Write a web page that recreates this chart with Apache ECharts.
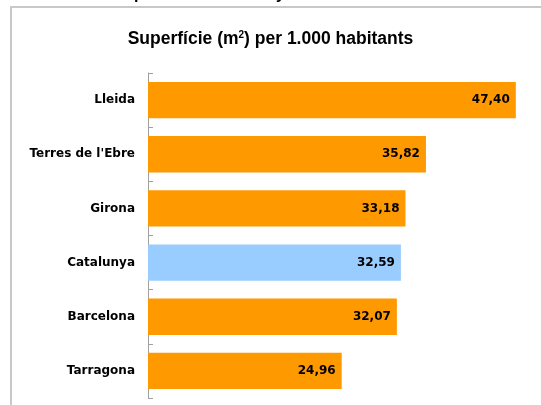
<!DOCTYPE html>
<html>
<head>
<meta charset="utf-8">
<script src="https://cdn.jsdelivr.net/npm/echarts@6/dist/echarts.min.js"></script>
<style>
  html, body { margin: 0; padding: 0; background: #fff; }
  #chart { width: 541px; height: 405px; }
</style>
</head>
<body>
<div id="chart"></div>
<script>
// dades
const zones = ['Lleida', "Terres de l'Ebre", 'Girona', 'Catalunya', 'Barcelona', 'Tarragona'];
const superficie = [47.40, 35.82, 33.18, 32.59, 32.07, 24.96];
const colorZona = '#FF9900';
const colorCatalunya = '#99CCFF';

const myChart = echarts.init(document.getElementById('chart'));

const option = {
    animation: false,
    backgroundColor: '#fff',
    title: {
        text: '{a|Superfície (m}{s|2}{a|) per 1.000 habitants}',
        left: 'center',
        top: 25,
        textStyle: {
            rich: {
                a: { fontFamily: 'Liberation Sans, Arial', fontWeight: 'bold', fontSize: 17.5, color: '#000' },
                s: { fontFamily: 'Liberation Sans, Arial', fontWeight: 'bold', fontSize: 10, color: '#000', verticalAlign: 'top', padding: [0, 0, 9, 0] }
            }
        }
    },
    graphic: [
        {
            type: 'rect',
            shape: { x: 11, y: 7, width: 600, height: 500 },
            style: { fill: 'none', stroke: '#c8c8c8', lineWidth: 2 },
            silent: true
        },
        // restes del text de dalt, tallat
        {
            type: 'text',
            style: { text: 'p', x: 134, y: 3, textVerticalAlign: 'bottom', fill: '#000', font: 'bold 16px Liberation Sans' }
        },
        {
            type: 'text',
            style: { text: 'y', x: 276, y: 3, textVerticalAlign: 'bottom', fill: '#000', font: 'bold 16px Liberation Sans' }
        }
    ],
    grid: { left: 148, right: 5, top: 73, bottom: 7, containLabel: false },
    xAxis: {
        type: 'value',
        min: 0,
        max: 50,
        show: false
    },
    yAxis: {
        type: 'category',
        data: zones,
        inverse: true,
        axisLine: { show: true, lineStyle: { color: '#a0a0a0', width: 1 } },
        axisTick: { show: true, inside: true, length: 5, lineStyle: { color: '#a0a0a0' } },
        axisLabel: {
            margin: 13,
            color: '#000',
            fontFamily: 'DejaVu Sans',
            fontWeight: 'bold',
            fontSize: 12
        },
        splitLine: { show: false }
    },
    series: [{
        type: 'bar',
        barCategoryGap: '33%',
        data: superficie.map((v, i) => ({
            value: v,
            itemStyle: { color: zones[i] === 'Catalunya' ? colorCatalunya : colorZona }
        })),
        label: {
            show: true,
            position: 'insideRight',
            distance: 6,
            color: '#000',
            fontFamily: 'DejaVu Sans',
            fontWeight: 'bold',
            fontSize: 12,
            formatter: p => p.value.toFixed(2).replace('.', ',')
        }
    }]
};

myChart.setOption(option);
</script>
</body>
</html>
